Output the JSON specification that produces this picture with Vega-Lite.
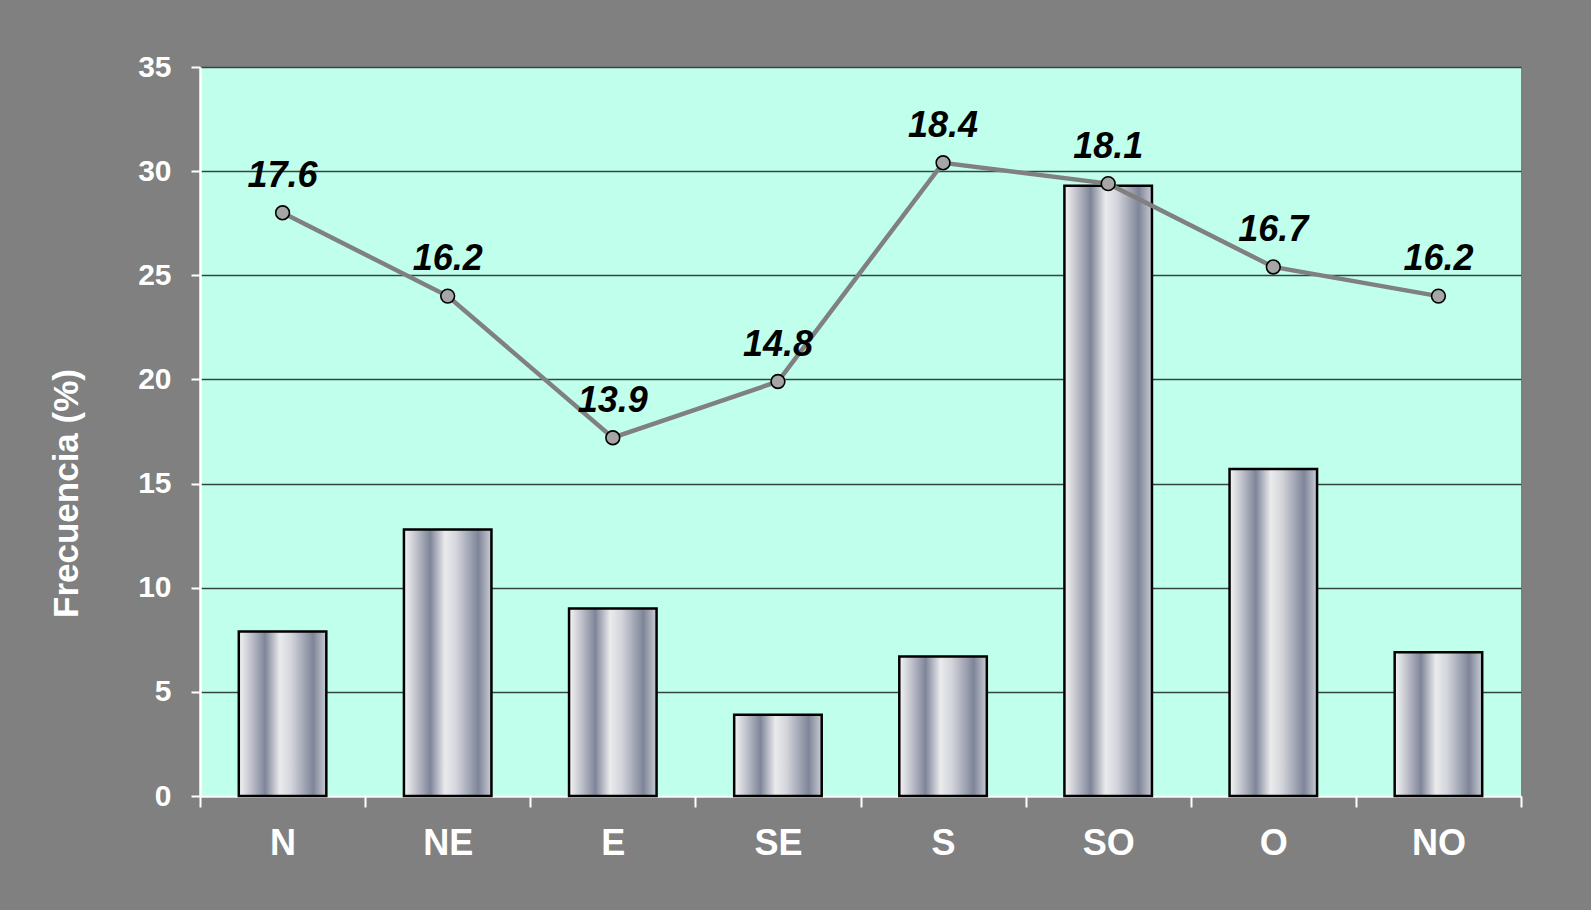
{
  "$schema": "https://vega.github.io/schema/vega-lite/v6.json",
  "autosize": {"type": "none"},
  "width": 1321,
  "height": 729,
  "padding": {"left": 200, "top": 67, "right": 70, "bottom": 114},
  "background": "#808080",
  "config": {
    "view": {"fill": "#C0FFEC", "stroke": null},
    "font": "Liberation Sans, Arial, sans-serif"
  },
  "data": {
    "values": [
      {"dir": "N", "frecuencia": 7.9, "punto": 28.0, "etiqueta": 17.6},
      {"dir": "NE", "frecuencia": 12.8, "punto": 24.0, "etiqueta": 16.2},
      {"dir": "E", "frecuencia": 9.0, "punto": 17.2, "etiqueta": 13.9},
      {"dir": "SE", "frecuencia": 3.9, "punto": 19.9, "etiqueta": 14.8},
      {"dir": "S", "frecuencia": 6.7, "punto": 30.4, "etiqueta": 18.4},
      {"dir": "SO", "frecuencia": 29.3, "punto": 29.4, "etiqueta": 18.1},
      {"dir": "O", "frecuencia": 15.7, "punto": 25.4, "etiqueta": 16.7},
      {"dir": "NO", "frecuencia": 6.9, "punto": 24.0, "etiqueta": 16.2}
    ]
  },
  "encoding": {
    "x": {
      "field": "dir",
      "type": "nominal",
      "sort": null,
      "scale": {"paddingInner": 0, "paddingOuter": 0},
      "axis": {
        "title": null,
        "labelAngle": 0,
        "labelColor": "white",
        "labelFontSize": 36,
        "labelFontWeight": "bold",
        "labelPadding": 19,
        "domainColor": "white",
        "domainWidth": 2.5,
        "tickColor": "white",
        "tickWidth": 2,
        "tickSize": 11,
        "tickBand": "extent",
        "grid": false
      }
    }
  },
  "layer": [
    {
      "mark": {
        "type": "bar",
        "width": {"band": 0.53},
        "stroke": "black",
        "strokeWidth": 2.5,
        "fill": {
          "gradient": "linear",
          "x1": 0, "y1": 0, "x2": 1, "y2": 0,
          "stops": [
            {"offset": 0, "color": "#f5f5f6"},
            {"offset": 0.12, "color": "#c8cad2"},
            {"offset": 0.3, "color": "#7f8599"},
            {"offset": 0.47, "color": "#ebebed"},
            {"offset": 0.6, "color": "#d3d5db"},
            {"offset": 0.85, "color": "#7f8599"},
            {"offset": 1, "color": "#c9ccd4"}
          ]
        }
      },
      "encoding": {
        "y": {
          "field": "frecuencia",
          "type": "quantitative",
          "scale": {"domain": [0, 35], "nice": false},
          "axis": {
            "title": "Frecuencia (%)",
            "titleColor": "white",
            "titleFontSize": 35,
            "titleFontWeight": "bold",
            "titleAngle": -90,
            "titleBaseline": "middle",
            "titleAlign": "center",
            "titleX": -134,
            "titleY": 426,
            "values": [0, 5, 10, 15, 20, 25, 30, 35],
            "labelColor": "white",
            "labelFontSize": 30,
            "labelFontWeight": "bold",
            "labelPadding": 20,
            "domainColor": "white",
            "domainWidth": 2.5,
            "tickColor": "white",
            "tickWidth": 2,
            "tickSize": 9,
            "grid": true,
            "gridColor": "#34443f",
            "gridWidth": 1.3
          }
        }
      }
    },
    {
      "mark": {"type": "line", "color": "#808080", "strokeWidth": 4.5},
      "encoding": {
        "y": {"field": "punto", "type": "quantitative"}
      }
    },
    {
      "mark": {"type": "point", "filled": true, "fill": "#a6a6a6", "stroke": "black", "strokeWidth": 1.6, "size": 190, "opacity": 1},
      "encoding": {
        "y": {"field": "punto", "type": "quantitative"}
      }
    },
    {
      "mark": {"type": "text", "fontSize": 36, "fontWeight": "bold", "fontStyle": "italic", "color": "black", "baseline": "alphabetic", "dy": -26},
      "encoding": {
        "y": {"field": "punto", "type": "quantitative"},
        "text": {"field": "etiqueta", "type": "quantitative", "format": ".1f"}
      }
    }
  ]
}
